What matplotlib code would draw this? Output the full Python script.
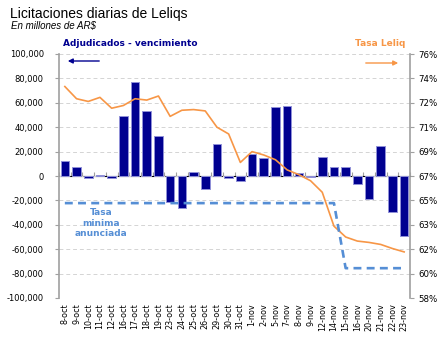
import numpy as np
import matplotlib
matplotlib.use("Agg")
import matplotlib.pyplot as plt
from matplotlib.patches import FancyArrowPatch
from matplotlib.ticker import FixedLocator, FuncFormatter, NullFormatter

# Fechas de licitación
fechas = ["8-oct", "9-oct", "10-oct", "11-oct", "12-oct", "16-oct", "17-oct",
          "18-oct", "19-oct", "23-oct", "24-oct", "25-oct", "26-oct", "29-oct",
          "30-oct", "31-oct", "1-nov", "2-nov", "5-nov", "7-nov", "8-nov",
          "9-nov", "12-nov", "14-nov", "15-nov", "16-nov", "20-nov", "21-nov",
          "22-nov", "23-nov"]

# Adjudicados - vencimiento (millones de AR$)
neto = [12000, 7000, -1500, 1000, -1500, 49000, 77000, 53500, 32500, -21500,
        -26000, 3500, -10500, 26600, -1500, -4500, 18000, 14400, 56800, 57300,
        2700, -800, 15500, 7600, 7100, -6800, -18700, 24500, -29300, -49200]

# Tasa Leliq (%)
tasa_leliq = [73.6, 72.7, 72.5, 72.8, 72.0, 72.2, 72.7, 72.6, 72.9, 71.4,
              71.85, 71.9, 71.8, 70.6, 70.1, 68.0, 68.8, 68.55, 68.2, 67.45,
              67.1, 66.65, 65.8, 63.3, 62.5, 62.2, 62.1, 61.95, 61.65, 61.4]

# Tasa mínima anunciada (%)
tasa_minima = [65.0] * 24 + [60.2] * 6

azul = "#000090"
naranja = "#F79646"
celeste = "#558ED5"
gris = "#A0A0A0"

plt.rcParams["font.family"] = ["DejaVu Sans"]

fig = plt.figure(figsize=(4.44, 3.44), dpi=100)
ax = fig.add_axes([59 / 444, 1 - 298 / 344, 351 / 444, 244 / 344])
x = np.arange(len(fechas))

ax.bar(x, neto, width=0.74, color=azul, edgecolor="#9090D8", linewidth=0.7, zorder=3)
ax.set_xlim(-0.5, len(fechas) - 0.5)
ax.set_ylim(-100000, 100000)
ax.set_yticks(np.arange(-100000, 100001, 20000))
ax.yaxis.set_major_formatter(FuncFormatter(lambda v, p: f"{v:,.0f}"))
ax.grid(axis="y", color="#D4D4D4", linestyle=(0, (4, 3)), linewidth=0.7, zorder=0)
ax.tick_params(axis="y", labelsize=6, length=3, color=gris, pad=8)

ax.set_xticks(x)
ax.set_xticklabels(fechas, rotation=90, fontsize=5.8)
ax.tick_params(axis="x", length=0, pad=4)
for s in ["top", "right", "bottom"]:
    ax.spines[s].set_visible(False)
ax.spines["left"].set_color(gris)
ax.spines["left"].set_linewidth(1.2)

# eje de categorías en el cero
sec = ax.secondary_xaxis(0.5)
sec.xaxis.set_major_locator(FixedLocator(np.arange(-0.5, len(fechas), 1.0)))
sec.xaxis.set_major_formatter(NullFormatter())
sec.tick_params(axis="x", length=3, color=gris, width=0.8)
sec.spines["bottom"].set_color(gris)
sec.spines["bottom"].set_linewidth(1.2)

ax2 = ax.twinx()
ax2.plot(x, tasa_leliq, color=naranja, linewidth=1.2, zorder=4)
ax2.plot(x, tasa_minima, color=celeste, linewidth=1.9, linestyle=(0, (3, 2)), zorder=4)
ax2.set_ylim(58, 76)
ax2.set_yticks(np.linspace(58, 76, 11))
ax2.yaxis.set_major_formatter(FuncFormatter(lambda v, p: f"{v:.0f}%"))
ax2.tick_params(axis="y", labelsize=6.2, length=3, color=gris, pad=3)
for s in ["top", "left", "bottom"]:
    ax2.spines[s].set_visible(False)
ax2.spines["right"].set_color(gris)
ax2.spines["right"].set_linewidth(1.2)

fig.text(10 / 444, 1 - 14 / 344, "Licitaciones diarias de Leliqs", fontsize=10,
         family="Liberation Sans", va="center")
fig.text(11 / 444, 1 - 26 / 344, "En millones de AR$", fontsize=7, style="italic",
         family="Liberation Sans", va="center")
fig.text(63 / 444, 1 - 44 / 344, "Adjudicados - vencimiento", fontsize=6.5,
         fontweight="bold", color=azul, va="center")
fig.text(405 / 444, 1 - 44 / 344, "Tasa Leliq", fontsize=6.5, fontweight="bold",
         color=naranja, va="center", ha="right")
fig.text(101 / 444, 1 - 223 / 344, "Tasa\nminima\nanunciada", fontsize=6.5,
         fontweight="bold", color=celeste, va="center", ha="center", linespacing=1.15)

fig.add_artist(FancyArrowPatch(
    (102 / 444, 1 - 61 / 344), (65 / 444, 1 - 61 / 344), transform=fig.transFigure,
    arrowstyle="-|>", mutation_scale=7, color=azul, linewidth=1))
fig.add_artist(FancyArrowPatch(
    (363 / 444, 1 - 63 / 344), (401 / 444, 1 - 63 / 344), transform=fig.transFigure,
    arrowstyle="-|>", mutation_scale=7, color=naranja, linewidth=1))

fig.savefig("out.png", dpi=100)
